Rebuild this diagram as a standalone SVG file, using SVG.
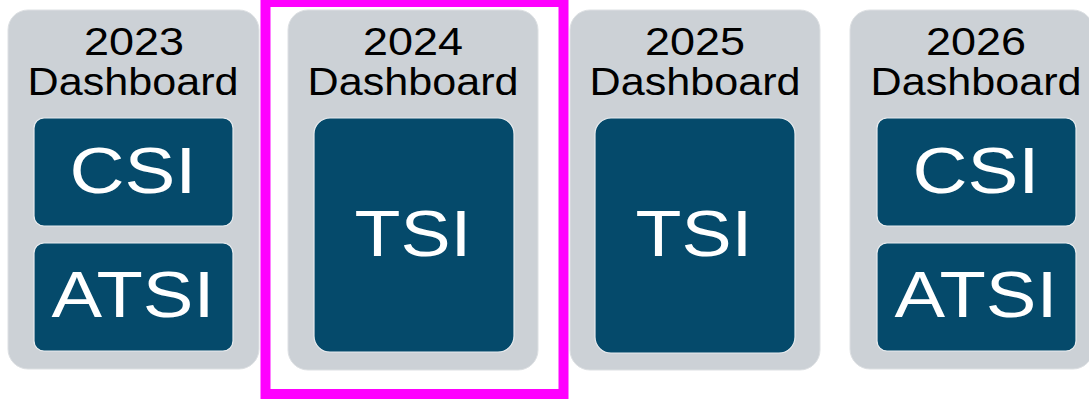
<svg xmlns="http://www.w3.org/2000/svg" width="1089" height="400" viewBox="0 0 1089 400">
<style>
.panel{fill:#CCD1D6;stroke:#DDE0E3;stroke-width:1}
.box{fill:#054A6B;stroke:#E8ECEF;stroke-width:1.2}
.yr{font-family:"Liberation Sans",Arial,sans-serif;font-size:38px;fill:#000;text-anchor:middle}
.y1{font-size:39px}
.lbl{font-family:"Liberation Sans",Arial,sans-serif;font-size:64px;fill:#fff;text-anchor:middle}
.hl{fill:none;stroke:#FF00FF;stroke-width:10}
</style>
<rect width="1089" height="400" fill="#fff"/>
<g id="panel2023">
<rect class="panel" x="8" y="10" width="251" height="359" rx="20"/>
<text class="yr y1" x="134" y="55" textLength="100" lengthAdjust="spacingAndGlyphs">2023</text>
<text class="yr" x="133" y="95" textLength="211" lengthAdjust="spacingAndGlyphs">Dashboard</text>
<g id="csi2023"><rect class="box" x="34" y="118" width="199" height="108" rx="10"/>
<text class="lbl" x="133" y="193" textLength="127" lengthAdjust="spacingAndGlyphs">CSI</text></g>
<g id="atsi2023"><rect class="box" x="34" y="243" width="199" height="108" rx="10"/>
<text class="lbl" x="133" y="317" textLength="163" lengthAdjust="spacingAndGlyphs">ATSI</text></g>
</g>
<g id="panel2024">
<rect class="panel" x="288" y="10" width="250" height="360" rx="20"/>
<text class="yr y1" x="413" y="55" textLength="100" lengthAdjust="spacingAndGlyphs">2024</text>
<text class="yr" x="413" y="95" textLength="211" lengthAdjust="spacingAndGlyphs">Dashboard</text>
<g id="tsi2024"><rect class="box" x="314" y="118" width="200" height="234" rx="16"/>
<text class="lbl" x="413" y="256" textLength="117" lengthAdjust="spacingAndGlyphs">TSI</text></g>
</g>
<g id="panel2025">
<rect class="panel" x="570" y="10" width="250" height="360" rx="20"/>
<text class="yr y1" x="695" y="55" textLength="100" lengthAdjust="spacingAndGlyphs">2025</text>
<text class="yr" x="695" y="95" textLength="211" lengthAdjust="spacingAndGlyphs">Dashboard</text>
<g id="tsi2025"><rect class="box" x="595" y="118" width="200" height="235" rx="16"/>
<text class="lbl" x="694" y="256" textLength="117" lengthAdjust="spacingAndGlyphs">TSI</text></g>
</g>
<g id="panel2026">
<rect class="panel" x="850" y="10" width="243" height="359" rx="20"/>
<text class="yr y1" x="976" y="55" textLength="100" lengthAdjust="spacingAndGlyphs">2026</text>
<text class="yr" x="976" y="95" textLength="211" lengthAdjust="spacingAndGlyphs">Dashboard</text>
<g id="csi2026"><rect class="box" x="877" y="118" width="199" height="108" rx="10"/>
<text class="lbl" x="976" y="193" textLength="127" lengthAdjust="spacingAndGlyphs">CSI</text></g>
<g id="atsi2026"><rect class="box" x="877" y="243" width="199" height="108" rx="10"/>
<text class="lbl" x="976" y="317" textLength="163" lengthAdjust="spacingAndGlyphs">ATSI</text></g>
</g>
<g id="highlight">
<rect class="hl" x="265.5" y="2" width="298" height="392"/>
</g>
<g id="connectors"></g>
</svg>
